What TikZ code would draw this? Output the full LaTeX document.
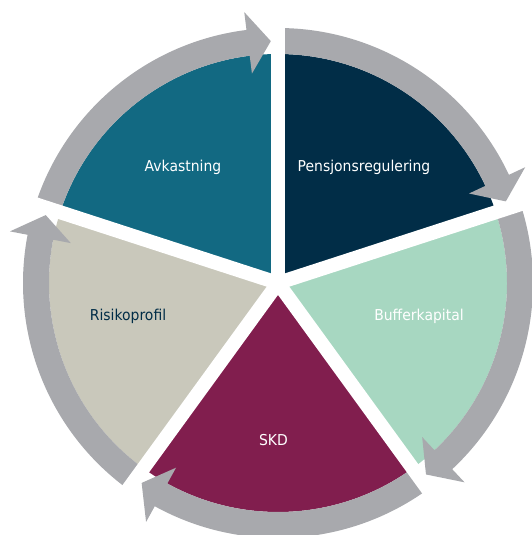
\documentclass[tikz,border=0pt]{standalone}
\usepackage{fontspec}
\setmainfont{DejaVu Sans}[FakeStretch=0.93]
\usepackage{tikz}
\definecolor{pensblue}{RGB}{1,45,71}
\definecolor{bufgreen}{RGB}{167,215,193}
\definecolor{skdred}{RGB}{129,30,78}
\definecolor{riskgrey}{RGB}{201,200,187}
\definecolor{avkteal}{RGB}{18,105,130}
\definecolor{ringgrey}{RGB}{168,169,173}

\begin{document}
\begin{tikzpicture}%[every node/.style={font=\large}]
[x=1pt, y=1pt,
    sector/.style={draw=none},
    ring/.style={fill=ringgrey, draw=none},
    gap/.style={draw=white, line width=14pt}]
    \tikzstyle{every node}=[font=\fontsize{15}{17}\selectfont, text=white]
    \useasboundingbox (-278,-252) rectangle (254,283);
    % the five pieces
    \fill[sector, avkteal] (0,0) -- (162:229pt) arc[start angle=162, end angle=90, radius=229pt] -- cycle;
    \fill[sector, pensblue] (0,0) -- (90:229pt) arc[start angle=90, end angle=18, radius=229pt] -- cycle;
    \fill[sector, bufgreen] (0,0) -- (18:229pt) arc[start angle=18, end angle=-54, radius=229pt] -- cycle;
    \fill[sector, skdred] (0,0) -- (-54:229pt) arc[start angle=-54, end angle=-126, radius=229pt] -- cycle;
    \fill[sector, riskgrey] (0,0) -- (-126:229pt) arc[start angle=-126, end angle=-198, radius=229pt] -- cycle;
    % arrows round the circle
    \fill[ring] (162:229pt) arc[start angle=162, end angle=97.1, radius=229pt] -- (97.1:211pt) -- (91.7:242pt)
        -- (97.1:273pt) -- (97.1:255pt) arc[start angle=97.1, end angle=162, radius=255pt] -- cycle;
    \fill[ring] (90:229pt) arc[start angle=90, end angle=25.1, radius=229pt] -- (25.1:211pt) -- (19.7:242pt)
        -- (25.1:273pt) -- (25.1:255pt) arc[start angle=25.1, end angle=90, radius=255pt] -- cycle;
    \fill[ring] (18:229pt) arc[start angle=18, end angle=-46.9, radius=229pt] -- (-46.9:211pt) -- (-52.3:242pt)
        -- (-46.9:273pt) -- (-46.9:255pt) arc[start angle=-46.9, end angle=18, radius=255pt] -- cycle;
    \fill[ring] (-54:229pt) arc[start angle=-54, end angle=-118.9, radius=229pt] -- (-118.9:211pt) -- (-124.3:242pt)
        -- (-118.9:273pt) -- (-118.9:255pt) arc[start angle=-118.9, end angle=-54, radius=255pt] -- cycle;
    \fill[ring] (-126:229pt) arc[start angle=-126, end angle=-190.9, radius=229pt] -- (-190.9:211pt) -- (-196.3:242pt)
        -- (-190.9:273pt) -- (-190.9:255pt) arc[start angle=-190.9, end angle=-126, radius=255pt] -- cycle;
    % white gaps
    \coordinate (o) at (0,0);
    \draw[gap] (o) -- (90:300pt);
    \draw[gap] (o) -- (18:300pt);
    \draw[gap] (o) -- (-54:300pt);
    \draw[gap] (o) -- (-126:300pt);
    \draw[gap] (o) -- (162:300pt);
    % labels
    \node (a) at (-95,116) {Avkastning};
    \node (p) at (86,116) {Pensjonsregulering};
    \node (b) at (141,-33) {Bufferkapital};
    \node (s) at (-4.5,-157) {SKD};
    \node[text=pensblue] (r) at (-150,-33) {Risikoprofil};
\end{tikzpicture}
\end{document}
